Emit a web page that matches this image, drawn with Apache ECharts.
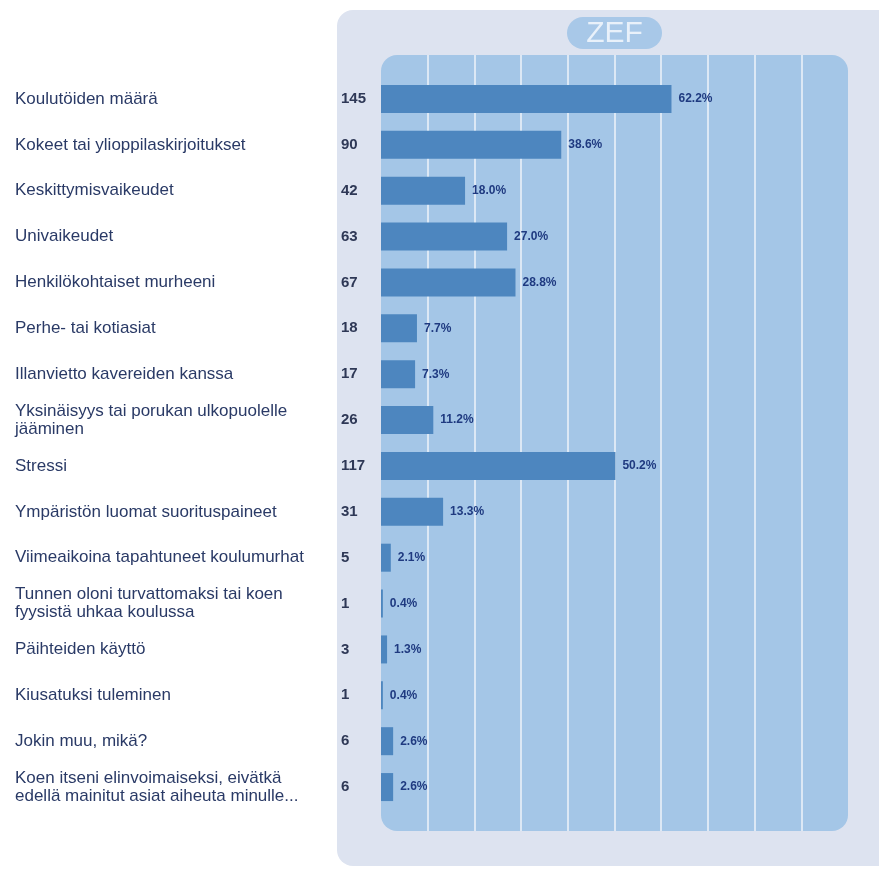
<!DOCTYPE html>
<html>
<head>
<meta charset="utf-8">
<script src="https://cdn.jsdelivr.net/npm/echarts@6/dist/echarts.min.js"></script>
<style>
  html, body { margin: 0; padding: 0; background: #ffffff; }
  #chart { width: 879px; height: 869px; }
</style>
</head>
<body>
<div id="chart"></div>
<script>
// Survey answers: what causes school stress
const categories = [
  'Koulutöiden määrä',
  'Kokeet tai ylioppilaskirjoitukset',
  'Keskittymisvaikeudet',
  'Univaikeudet',
  'Henkilökohtaiset murheeni',
  'Perhe- tai kotiasiat',
  'Illanvietto kavereiden kanssa',
  'Yksinäisyys tai porukan ulkopuolelle\njääminen',
  'Stressi',
  'Ympäristön luomat suorituspaineet',
  'Viimeaikoina tapahtuneet koulumurhat',
  'Tunnen oloni turvattomaksi tai koen\nfyysistä uhkaa koulussa',
  'Päihteiden käyttö',
  'Kiusatuksi tuleminen',
  'Jokin muu, mikä?',
  'Koen itseni elinvoimaiseksi, eivätkä\nedellä mainitut asiat aiheuta minulle...'
];
const counts = [145, 90, 42, 63, 67, 18, 17, 26, 117, 31, 5, 1, 3, 1, 6, 6];
const percents = [62.2, 38.6, 18.0, 27.0, 28.8, 7.7, 7.3, 11.2, 50.2, 13.3, 2.1, 0.4, 1.3, 0.4, 2.6, 2.6];
const xTicks = [0, 10, 20, 30, 40, 50, 60, 70, 80, 90, 100];

const chart = echarts.init(document.getElementById('chart'), null, { renderer: 'canvas' });

// hide the split lines that sit on the left and right edges of the plot panel
const lineColors = xTicks.map((t, i) => (i === 0 || i === xTicks.length - 1) ? 'rgba(0,0,0,0)' : '#dce8f5');

chart.setOption({
  animation: false,
  backgroundColor: '#ffffff',
  textStyle: { fontFamily: 'Liberation Sans, Arial, sans-serif' },
  graphic: [
    { type: 'rect', z: -20, shape: { x: 337, y: 10, width: 560, height: 856, r: 16 },
      style: { fill: '#dde3f0' } },
    { type: 'rect', z: -19, shape: { x: 381, y: 55, width: 467, height: 776, r: 16 },
      style: { fill: '#a4c6e7' } },
    { type: 'rect', z: -18, shape: { x: 567, y: 17, width: 95, height: 32, r: 16 },
      style: { fill: '#a8c8e8' } },
    { type: 'text', z: 10, x: 614.5, y: 34,
      style: { text: 'ZEF', fill: '#e9f1fa', font: '30px "Liberation Sans", Arial, sans-serif',
               align: 'center', verticalAlign: 'middle' } }
  ],
  grid: [
    { left: 381, right: 31, top: 76, bottom: 59 },
    { left: 381, right: 31, top: 55, bottom: 38 }
  ],
  xAxis: [
    { type: 'value', gridIndex: 0, min: 0, max: 100, interval: 10,
      axisLine: { show: false }, axisTick: { show: false }, axisLabel: { show: false },
      splitLine: { show: false } },
    { type: 'value', gridIndex: 1, min: 0, max: 100, interval: 10,
      axisLine: { show: false }, axisTick: { show: false }, axisLabel: { show: false },
      splitLine: { show: true, lineStyle: { color: lineColors, width: 2 } } }
  ],
  yAxis: [
    { type: 'category', gridIndex: 0, data: categories, inverse: true, position: 'left',
      axisLine: { show: false }, axisTick: { show: false }, splitLine: { show: false },
      axisLabel: { align: 'left', margin: 366, fontSize: 17, lineHeight: 18,
                   color: '#2a3a66', interval: 0 } },
    { type: 'category', gridIndex: 0, data: counts.map(String), inverse: true, position: 'left',
      axisLine: { show: false }, axisTick: { show: false }, splitLine: { show: false },
      axisLabel: { align: 'left', margin: 40, fontSize: 15, fontWeight: 'bold',
                   color: '#2e3856', interval: 0 } },
    { type: 'value', gridIndex: 1, show: false, min: 0, max: 1 }
  ],
  series: [{
    type: 'bar',
    xAxisIndex: 0,
    yAxisIndex: 0,
    data: percents,
    barWidth: 28,
    itemStyle: { color: '#4d86bf' },
    label: {
      show: true, position: 'right', distance: 7,
      formatter: p => percents[p.dataIndex].toFixed(1) + '%',
      fontSize: 12, fontWeight: 'bold', color: '#1f3a80'
    }
  }]
});
</script>
</body>
</html>
